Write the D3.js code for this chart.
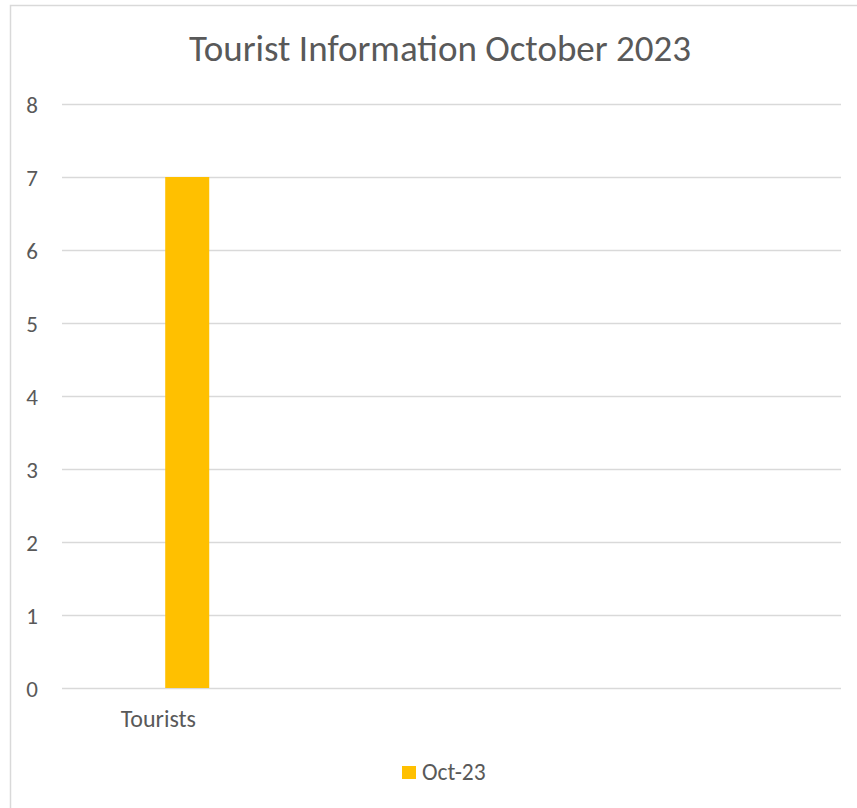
<!DOCTYPE html>
<html>
<head>
<meta charset="utf-8">
<script src="https://cdn.jsdelivr.net/npm/d3@7"></script>
<style>
  html, body { margin: 0; padding: 0; background: #fff; }
  svg { display: block; }
  text { font-family: Carlito, Calibri, Lato, "Open Sans", sans-serif; fill: #595959; }
</style>
</head>
<body>
<svg id="chart" width="857" height="808"></svg>
<script>
// Chart content
const chartTitle = "Tourist Information October 2023";
const categories = ["Tourists", "", "", ""];
const seriesNames = ["Oct-23"];
const seriesValues = [7, null, null, null];
const yTicks = [0, 1, 2, 3, 4, 5, 6, 7, 8];
const seriesColors = ["#FFC000"];

const svg = d3.select("#chart");
const W = 857, H = 808;
const margin = { left: 62, right: 16, top: 104, bottom: 120 };

// Outer chart frame (extends past the right and bottom of the view)
svg.append("rect")
  .attr("x", 10.5).attr("y", 5.5)
  .attr("width", W + 20).attr("height", H + 20)
  .attr("fill", "#fff").attr("stroke", "#d9d9d9").attr("stroke-width", 1.5);

const x = d3.scaleBand()
  .domain(categories.map((c, i) => i))
  .range([margin.left, W - margin.right]);

const y = d3.scaleLinear()
  .domain([0, d3.max(yTicks)])
  .range([H - margin.bottom, margin.top]);

// Horizontal gridlines
const yAxis = d3.axisLeft(y).tickValues(yTicks).tickSize(-(W - margin.right - margin.left)).tickPadding(24);
const gy = svg.append("g")
  .attr("transform", `translate(${margin.left},0)`)
  .call(yAxis);
gy.select(".domain").remove();
gy.selectAll(".tick line").attr("stroke", "#d9d9d9").attr("stroke-width", 1.5);
gy.selectAll(".tick text")
  .attr("fill", "#595959")
  .style("font-family", null)
  .style("font-size", "23px")
  .attr("dy", "0.36em");

// Bars: within each category slot the column sits right of the slot centre
const bw = x.bandwidth();
const barOffset = 0.53, barWidth = 0.226;
svg.append("g").selectAll("rect")
  .data(seriesValues.map((v, i) => ({ i, v })).filter(d => d.v != null))
  .join("rect")
  .attr("x", d => x(d.i) + bw * barOffset)
  .attr("width", bw * barWidth)
  .attr("y", d => y(d.v))
  .attr("height", d => y(0) - y(d.v))
  .attr("fill", seriesColors[0]);

// Category labels
svg.append("g").selectAll("text")
  .data(categories.map((c, i) => ({ c, i })))
  .join("text")
  .attr("x", d => x(d.i) + bw / 2 - 1)
  .attr("y", y(0) + 39)
  .attr("text-anchor", "middle")
  .style("font-size", "24px")
  .text(d => d.c);

// Title
svg.append("text")
  .attr("x", 440)
  .attr("y", 61)
  .attr("text-anchor", "middle")
  .style("font-size", "37px")
  .text(chartTitle);

// Legend
const lg = svg.append("g").attr("transform", "translate(402,766)");
lg.append("rect").attr("width", 14).attr("height", 13).attr("fill", seriesColors[0]);
lg.append("text")
  .attr("x", 20).attr("y", 14)
  .style("font-size", "23.5px")
  .text(seriesNames[0]);
</script>
</body>
</html>
